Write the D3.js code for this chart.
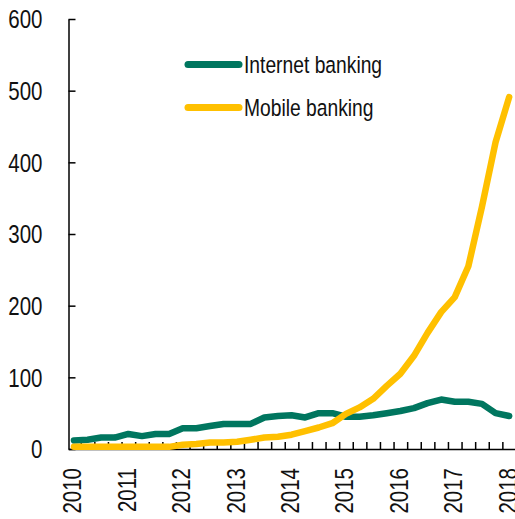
<!DOCTYPE html>
<html>
<head>
<meta charset="utf-8">
<script src="https://cdn.jsdelivr.net/npm/d3@7"></script>
<style>
  html, body { margin: 0; padding: 0; background: #fff; }
  svg { display: block; }
  text { font-family: "Liberation Sans", Arial, sans-serif; fill: #111; }
</style>
</head>
<body>
<svg id="chart" width="515" height="519"></svg>
<script>
// ---- Data (quarterly, 2010 Q1 – 2018 Q1) ----
const years = ["2010", "2011", "2012", "2013", "2014", "2015", "2016", "2017", "2018"];
const internetBanking = [12, 13, 16, 16, 21, 18, 21, 21, 29, 29, 32, 35, 35, 35, 44, 46, 47, 44, 50, 50, 45, 45, 47, 50, 53, 57, 64, 69, 66, 66, 63, 50, 46];
const mobileBanking   = [3, 3, 3, 3, 3, 3, 3, 3, 6, 7, 9, 9, 10, 13, 16, 17, 20, 25, 30, 36, 49, 58, 70, 88, 105, 130, 162, 191, 212, 255, 338, 428, 491];
const yTicks = [0, 100, 200, 300, 400, 500, 600];
const seriesNames = ["Internet banking", "Mobile banking"];
const seriesColors = ["#00765f", "#ffc000"];

const svg = d3.select("#chart");
const n = internetBanking.length;
const squeeze = 0.82; // emulate a narrow sans face

const x = d3.scaleLinear().domain([-0.4, n - 0.6]).range([68.5, 514.6]);
const y = d3.scaleLinear().domain([0, 600]).range([449, 19]);

// Y axis
const yAxis = d3.axisLeft(y).tickValues(yTicks).tickSizeInner(-7).tickSizeOuter(0).tickPadding(26);
const gy = svg.append("g").attr("transform", `translate(${x(-0.4)},0)`).call(yAxis);
gy.select(".domain").attr("stroke", "#000").attr("stroke-width", 1.5);
gy.selectAll(".tick line").attr("stroke", "#000").attr("stroke-width", 1.5);
gy.selectAll(".tick text")
  .attr("font-size", 25).attr("font-family", null).attr("fill", "#111")
  .attr("x", 0).attr("dy", "0.35em")
  .attr("transform", `translate(-26,0) scale(${squeeze},1)`);

// X axis (quarter boundary ticks)
const qTicks = d3.range(0, n - 1).map(i => i + 0.5);
const xAxis = d3.axisBottom(x).tickValues(qTicks).tickSizeInner(-7).tickSizeOuter(0).tickFormat("");
const gx = svg.append("g").attr("transform", `translate(0,${y(0)})`).call(xAxis);
gx.select(".domain").attr("stroke", "#000").attr("stroke-width", 1.5);
gx.selectAll(".tick line").attr("stroke", "#000").attr("stroke-width", 1.5);

// Year labels (rotated)
svg.append("g").selectAll("text").data(years).join("text")
  .attr("transform", (d, i) => `translate(${x(i * 4)},468) rotate(-90) scale(${squeeze},1)`)
  .attr("text-anchor", "end")
  .attr("dy", "0.3em")
  .attr("font-size", 25)
  .text(d => d);

// Lines
const line = d3.line().x((d, i) => x(i)).y(d => y(d));
[internetBanking, mobileBanking].forEach((s, k) => {
  svg.append("path").datum(s)
    .attr("d", line)
    .attr("fill", "none")
    .attr("stroke", seriesColors[k])
    .attr("stroke-width", 6.5)
    .attr("stroke-linejoin", "round")
    .attr("stroke-linecap", "round");
});

// Legend
const legend = svg.append("g");
const legY = [64.5, 107.5];
seriesNames.forEach((name, k) => {
  legend.append("line")
    .attr("x1", 188).attr("x2", 239)
    .attr("y1", legY[k]).attr("y2", legY[k])
    .attr("stroke", seriesColors[k])
    .attr("stroke-width", 7)
    .attr("stroke-linecap", "round");
  legend.append("text")
    .attr("transform", `translate(244,${legY[k] + 8.5}) scale(${squeeze},1)`)
    .attr("font-size", 23.5)
    .text(name);
});
</script>
</body>
</html>
